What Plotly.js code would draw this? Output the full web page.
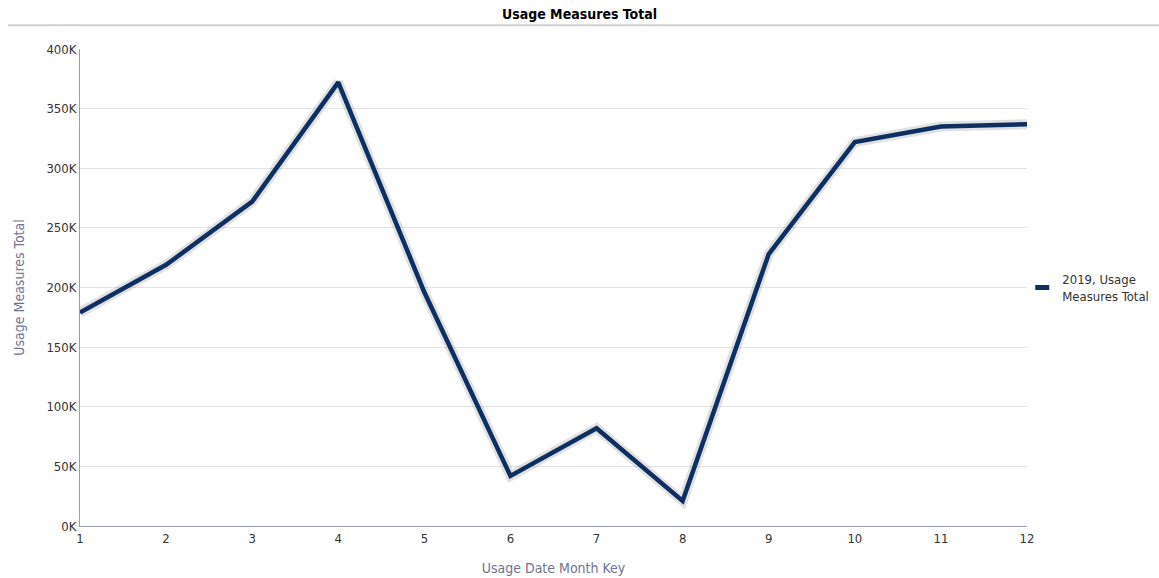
<!DOCTYPE html>
<html><head><meta charset="utf-8">
<script src="https://cdn.plot.ly/plotly-3.0.1.min.js"></script>
<style>html,body{margin:0;padding:0;background:#fff}#chart{width:1159px;height:578px}</style>
</head><body><div id="chart"></div>
<script>
const months = [1,2,3,4,5,6,7,8,9,10,11,12];
const usage2019 = [179000,219000,272000,372000,196000,42000,82000,21000,228000,322000,335000,337000];
const tickVals = [0,50000,100000,150000,200000,250000,300000,350000,400000];
const tickText = ['0K','50K','100K','150K','200K','250K','300K','350K','400K'];
const seriesName = '2019, Usage<br>Measures Total';

const FONT = '"Liberation Sans Narrow", "DejaVu Sans Condensed", "DejaVu Sans", sans-serif';
const lineColor = '#0d2f62';

const traces = [
  {x: months, y: usage2019, mode: 'lines', line: {color: 'rgba(40,40,60,0.14)', width: 10}, hoverinfo: 'skip', showlegend: false},
  {x: months, y: usage2019, mode: 'lines', line: {color: lineColor, width: 4.5}, name: seriesName, showlegend: false},
  {x: [null], y: [null], mode: 'markers', name: seriesName, marker: {symbol: 'line-ew', size: 10, color: lineColor, line: {color: lineColor, width: 5}}, showlegend: true}
];

const layout = {
  width: 1159, height: 578,
  margin: {l: 80, r: 132, t: 49, b: 52, autoexpand: false},
  paper_bgcolor: '#fff', plot_bgcolor: '#fff',
  font: {family: FONT, size: 13, color: '#333'},
  title: {text: '<b>Usage Measures Total</b>', x: 0.5, xanchor: 'center', y: 0.975, yanchor: 'middle', font: {family: FONT, size: 14, color: '#000'}},
  xaxis: {
    range: [1, 12], tickmode: 'array', tickvals: months, ticktext: months.map(String),
    showgrid: false, zeroline: false, showline: true, linecolor: '#9a9db3', linewidth: 1,
    ticks: '', ticklen: 0, tickfont: {size: 13, color: '#333'}, automargin: false,
    title: {text: 'Usage Date Month Key', font: {size: 14, color: '#6f7490'}, standoff: 18}
  },
  yaxis: {
    range: [0, 400000], tickmode: 'array', tickvals: tickVals, ticktext: tickText,
    showgrid: true, gridcolor: '#e3e3ea', zeroline: false, showline: true, linecolor: '#9a9db3', linewidth: 1,
    ticks: '', tickfont: {size: 13, color: '#333'}, automargin: false,
    title: {text: 'Usage Measures Total', font: {size: 14, color: '#6f7490'}, standoff: 18}
  },
  legend: {x: 0.995, xanchor: 'left', y: 0.5, yanchor: 'middle', font: {size: 13, color: '#333'}, itemwidth: 30, bgcolor: 'rgba(0,0,0,0)'},
  shapes: [
    {type: 'line', xref: 'paper', yref: 'paper', x0: -0.076, x1: 1.14, y0: 1.050, y1: 1.050, line: {color: '#d0d0d0', width: 2}}
  ],
  showlegend: true
};

Plotly.newPlot('chart', traces, layout, {displayModeBar: false, staticPlot: true});
</script></body></html>
